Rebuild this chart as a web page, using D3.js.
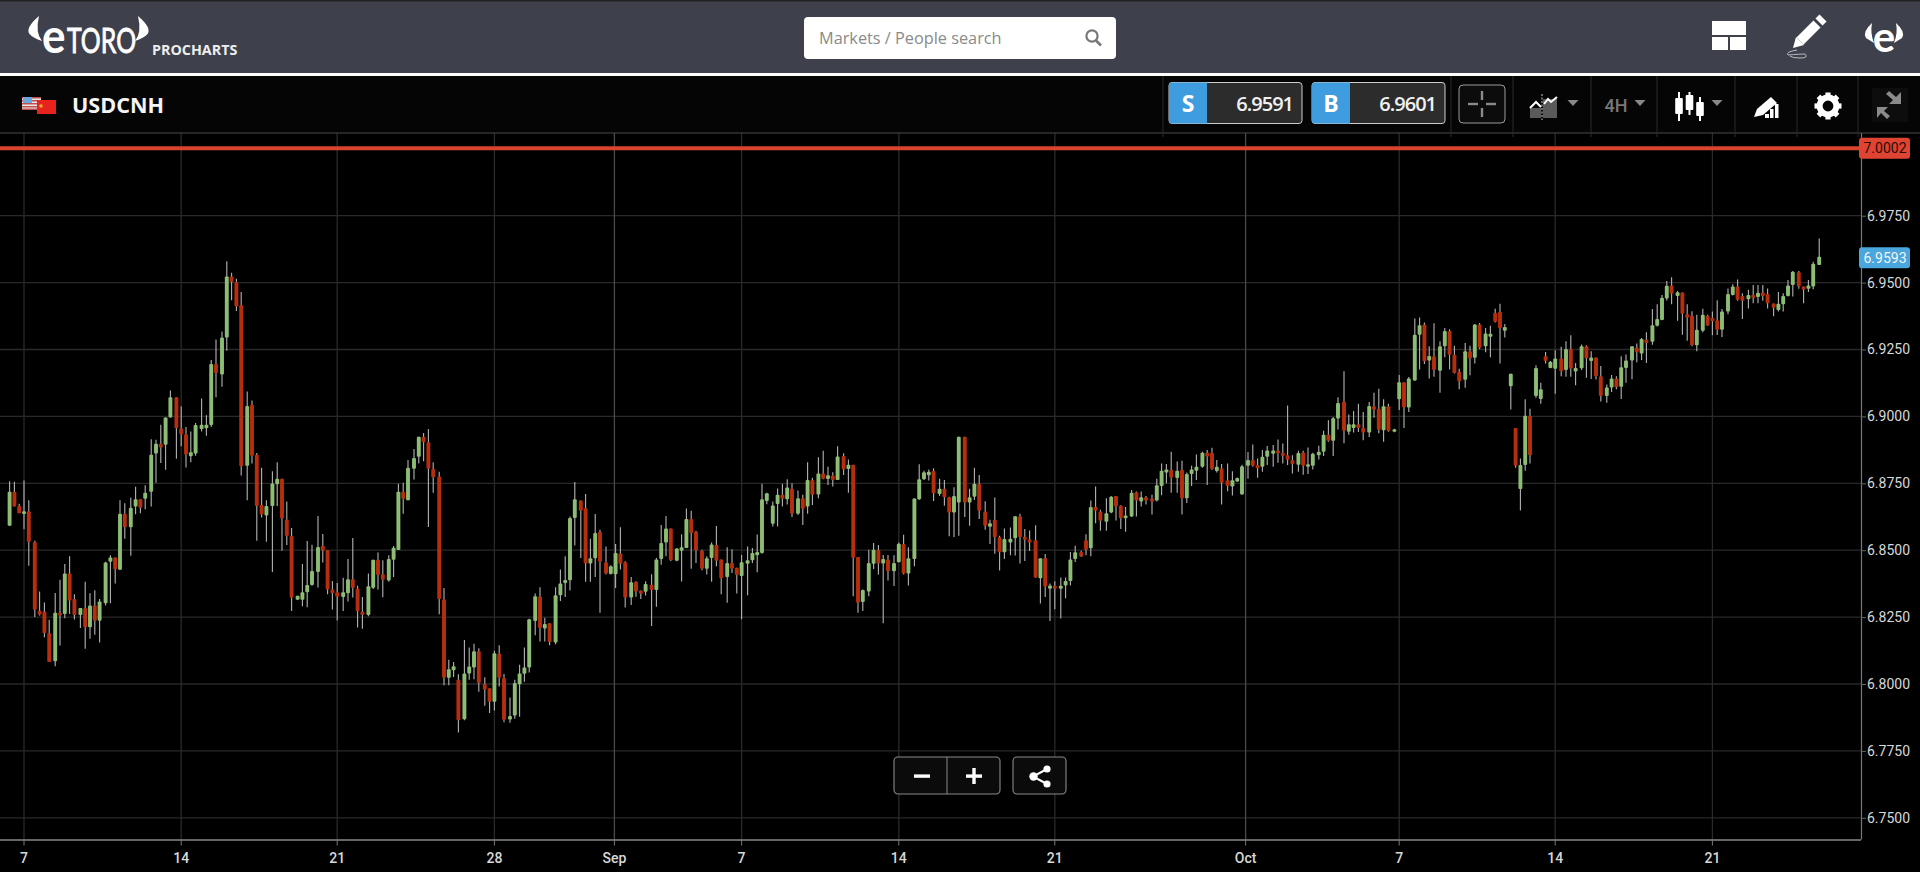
<!DOCTYPE html>
<html><head><meta charset="utf-8"><title>USDCNH</title>
<script src="https://d3js.org/d3.v7.min.js"></script>
<style>html,body{margin:0;padding:0;background:#000;overflow:hidden}svg{display:block}</style>
</head><body><div id="c"></div>
<script>
// Prices are stored as 1/10000 above 6 (8758 = 6.8758)
const highs=[8758,8756,8674,8760,8687,8535,8346,8305,8240,8340,
8390,8448,8477,8335,8284,8382,8339,8350,8318,8457,
8481,8473,8687,8675,8696,8737,8690,8743,8915,8913,
8969,8996,9097,9072,9037,8960,8944,8975,9067,9004,
9211,9287,9317,9580,9537,9514,9465,9093,9059,8863,
8808,8687,8795,8829,8767,8682,8583,8330,8448,8534,
8520,8628,8561,8500,8385,8377,8397,8467,8546,8367,
8325,8413,8464,8491,8462,8481,8516,8748,8752,8837,
8878,8924,8938,8953,8829,8793,8359,8091,8082,8036,
8164,8136,8150,8134,8025,7984,8124,8145,8037,7950,
8016,8072,8136,8244,8338,8362,8248,8227,8362,8428,
8477,8626,8755,8686,8710,8543,8635,8576,8514,8444,
8523,8586,8459,8400,8384,8349,8384,8410,8471,8594,
8628,8581,8508,8560,8656,8647,8573,8502,8477,8529,
8590,8465,8511,8504,8434,8482,8514,8508,8559,8748,
8715,8682,8731,8748,8765,8750,8723,8707,8829,8771,
8847,8872,8812,8791,8888,8862,8839,8819,8475,8353,
8502,8527,8519,8482,8482,8481,8529,8558,8511,8693,
8821,8797,8802,8806,8767,8762,8700,8735,8924,8924,
8730,8808,8781,8683,8614,8697,8554,8581,8585,8627,
8636,8579,8574,8593,8470,8486,8376,8384,8398,8398,
8493,8517,8498,8560,8686,8738,8651,8694,8703,8703,
8668,8661,8725,8719,8719,8703,8707,8767,8824,8822,
8868,8831,8834,8790,8816,8858,8868,8874,8883,8837,
8822,8824,8795,8772,8819,8867,8895,8843,8874,8889,
8893,8914,8899,9041,8855,8872,8872,8884,8864,8890,
8946,8986,8998,9072,9169,9007,9020,9047,9016,9054,
9088,9103,9064,9047,8954,9155,9128,9147,9366,9370,
9351,9262,9348,9281,9330,9326,9264,9178,9274,9264,
9345,9349,9330,9339,9402,9421,9345,9159,8957,8843,
9064,9029,9191,9126,9241,9207,9247,9260,9281,9303,
9200,9269,9266,9243,9220,9188,9119,9155,9150,9225,
9231,9262,9272,9293,9314,9401,9419,9454,9506,9520,
9469,9463,9419,9393,9380,9402,9380,9392,9434,9401,
9478,9494,9512,9460,9473,9491,9491,9491,9478,9422,
9465,9460,9510,9543,9543,9485,9510,9578,9665];
const lows=[8591,8663,8638,8578,8442,8250,8256,8175,8082,8066,
8144,8246,8262,8241,8209,8132,8169,8184,8155,8293,
8302,8376,8427,8543,8479,8634,8638,8653,8663,8752,
8826,8801,8996,8842,8888,8809,8829,8853,8944,8928,
8960,9072,9111,9245,9434,9394,8779,8687,8824,8535,
8622,8532,8419,8665,8498,8519,8273,8315,8291,8287,
8367,8361,8454,8335,8278,8237,8273,8308,8323,8211,
8206,8253,8355,8353,8324,8382,8400,8501,8636,8687,
8764,8824,8832,8587,8715,8261,7995,7995,8026,7819,
7865,8016,8018,7971,7919,7892,7901,7991,7857,7855,
7870,7878,8008,8043,8182,8159,8159,8145,8149,8310,
8325,8349,8518,8471,8382,8382,8400,8266,8409,8409,
8359,8428,8286,8295,8326,8318,8331,8217,8289,8446,
8477,8460,8459,8383,8508,8431,8452,8425,8409,8382,
8440,8335,8304,8415,8338,8242,8332,8452,8418,8487,
8672,8589,8589,8663,8671,8624,8632,8594,8636,8669,
8694,8765,8744,8738,8762,8781,8715,8328,8266,8273,
8328,8430,8409,8227,8387,8366,8455,8409,8368,8440,
8688,8762,8760,8684,8703,8666,8552,8549,8554,8624,
8591,8688,8617,8576,8523,8487,8424,8467,8481,8480,
8450,8460,8497,8397,8301,8325,8235,8279,8245,8320,
8368,8456,8475,8481,8477,8601,8573,8573,8638,8611,
8579,8569,8624,8626,8663,8671,8633,8682,8705,8750,
8715,8715,8633,8676,8740,8762,8808,8744,8800,8790,
8671,8720,8704,8755,8708,8767,8812,8771,8793,8818,
8812,8827,8824,8818,8787,8793,8782,8785,8802,8839,
8852,8905,8852,8951,8900,8931,8940,8942,8911,8923,
8995,8937,8905,8943,8941,9024,8957,9016,9132,9175,
9196,9142,9148,9088,9221,9175,9160,9101,9107,9154,
9198,9252,9240,9221,9351,9198,9295,9026,8808,8648,
8797,8824,9070,9047,9198,9180,9085,9150,9148,9148,
9116,9173,9144,9140,9138,9056,9051,9091,9101,9065,
9126,9139,9202,9211,9200,9268,9336,9359,9433,9419,
9357,9305,9283,9262,9243,9314,9339,9303,9304,9297,
9382,9452,9432,9364,9403,9423,9423,9432,9403,9374,
9392,9392,9448,9448,9477,9423,9465,9475,9566];
const opens=[8591,8718,8665,8635,8646,8531,8274,8271,8190,8085,
8266,8262,8413,8318,8258,8284,8212,8293,8236,8302,
8457,8473,8427,8636,8586,8663,8690,8692,8718,8861,
8898,8894,8996,9072,8955,8933,8851,8861,8953,8956,
8968,9196,9157,9295,9523,9502,9415,8816,9044,8857,
8669,8630,8665,8746,8767,8615,8553,8315,8315,8343,
8370,8419,8517,8500,8353,8343,8325,8339,8391,8357,
8271,8258,8360,8464,8410,8387,8464,8501,8718,8687,
8804,8849,8924,8903,8804,8775,8317,8023,8051,8016,
7868,8039,8062,8122,8000,7984,7934,8113,8022,7867,
7882,7999,8038,8062,8235,8327,8207,8227,8155,8332,
8377,8388,8620,8686,8657,8450,8470,8569,8455,8411,
8410,8488,8455,8323,8382,8349,8345,8371,8351,8467,
8529,8581,8461,8498,8508,8617,8569,8498,8431,8471,
8519,8465,8400,8452,8434,8404,8449,8462,8481,8490,
8684,8599,8673,8707,8690,8730,8636,8694,8663,8762,
8708,8787,8766,8779,8762,8852,8803,8819,8475,8306,
8346,8449,8501,8450,8465,8421,8455,8523,8413,8467,
8690,8765,8780,8796,8710,8730,8698,8641,8678,8924,
8678,8700,8748,8645,8588,8614,8548,8492,8529,8545,
8627,8550,8540,8537,8395,8471,8356,8367,8356,8368,
8385,8467,8493,8537,8507,8662,8645,8606,8641,8703,
8666,8619,8626,8717,8682,8698,8693,8686,8740,8790,
8801,8770,8801,8694,8785,8797,8812,8864,8864,8796,
8805,8761,8738,8757,8708,8816,8837,8818,8812,8849,
8860,8873,8864,8855,8837,8819,8865,8816,8816,8855,
8868,8931,8909,8992,9055,8943,8957,8971,8957,8940,
9038,9029,8948,9038,8943,9064,9128,9033,9134,9305,
9343,9209,9225,9171,9262,9319,9230,9167,9137,9243,
9219,9343,9262,9298,9386,9391,9320,9113,8957,8729,
8818,9002,9076,9065,9225,9181,9178,9216,9173,9252,
9168,9180,9262,9207,9220,9150,9076,9108,9142,9111,
9181,9209,9257,9235,9287,9279,9339,9360,9441,9489,
9450,9463,9382,9376,9266,9320,9376,9369,9359,9324,
9392,9454,9485,9450,9438,9454,9446,9463,9457,9422,
9398,9419,9450,9491,9539,9485,9477,9485,9566];
const closes=[8718,8663,8638,8646,8531,8277,8260,8190,8082,8266,
8256,8413,8312,8258,8284,8212,8293,8236,8308,8454,
8473,8429,8636,8586,8659,8690,8659,8715,8857,8898,
8884,8996,9072,8956,8933,8858,8866,8968,8969,8969,
9196,9161,9295,9523,9502,9411,8814,9039,8853,8665,
8633,8665,8749,8767,8618,8553,8322,8330,8343,8370,
8422,8512,8498,8353,8339,8326,8343,8391,8359,8272,
8258,8365,8464,8407,8390,8467,8509,8718,8692,8808,
8845,8924,8903,8804,8773,8318,8023,8055,8066,7865,
8039,8065,8122,8004,7979,7934,8115,8023,7866,7880,
8004,8039,8062,8242,8328,8209,8224,8157,8332,8376,
8389,8620,8690,8647,8450,8470,8564,8457,8413,8440,
8490,8449,8323,8380,8346,8337,8374,8351,8465,8527,
8581,8462,8506,8511,8617,8564,8500,8431,8470,8521,
8461,8395,8452,8431,8407,8455,8462,8490,8493,8690,
8713,8667,8707,8692,8734,8636,8694,8655,8762,8707,
8787,8767,8780,8762,8850,8802,8819,8472,8304,8351,
8452,8502,8450,8467,8421,8452,8524,8413,8470,8693,
8765,8791,8793,8713,8730,8698,8641,8703,8924,8678,
8698,8748,8647,8591,8601,8548,8492,8542,8543,8627,
8548,8539,8529,8398,8470,8364,8368,8356,8367,8385,
8465,8492,8476,8502,8661,8647,8610,8638,8700,8663,
8619,8630,8715,8686,8698,8686,8682,8743,8797,8802,
8771,8797,8694,8785,8802,8812,8864,8850,8803,8812,
8752,8740,8761,8770,8814,8837,8816,8806,8849,8873,
8873,8862,8852,8838,8821,8863,8816,8821,8860,8868,
8931,8909,8993,9050,8946,8971,8971,8957,8940,9039,
9025,8950,9038,8945,8952,9128,9034,9142,9305,9341,
9206,9226,9173,9262,9319,9230,9162,9131,9243,9216,
9343,9257,9310,9309,9354,9329,9334,9159,8816,8818,
9002,8855,9181,9101,9207,9204,9216,9169,9252,9178,
9181,9262,9217,9220,9150,9076,9108,9142,9109,9184,
9209,9262,9240,9289,9274,9341,9364,9443,9488,9458,
9464,9384,9370,9266,9324,9380,9340,9356,9324,9392,
9457,9485,9436,9432,9454,9442,9462,9450,9423,9406,
9421,9450,9489,9541,9485,9473,9489,9570,9597];

const yTicks=[6.75,6.775,6.8,6.825,6.85,6.875,6.9,6.925,6.95,6.975];
const xTickBars=[3,34,65,96,119.7,145,176,207,244.6,275,306,337];
const xTickLabels=['7','14','21','28','Sep','7','14','21','Oct','7','14','21'];
const monthLabels=['Sep','Oct'];
const alertPrice=7.0002, lastPrice=6.9593;
const sellPrice='6.9591', buyPrice='6.9601';
const instrument='USDCNH';

const toPrice=v=>6+v/10000;
const candles=highs.map((h,i)=>({i,high:toPrice(h),low:toPrice(lows[i]),open:toPrice(opens[i]),close:toPrice(closes[i])}));

const W=1920,H=872;
const svg=d3.select('#c').append('svg').attr('width',W).attr('height',H).attr('viewBox',`0 0 ${W} ${H}`);
const sans='"Open Sans",sans-serif', rob='Roboto,"Liberation Sans",sans-serif';

// scales: the source chart snaps bars to a 1600-wide grid which is then shown at 1.2x
const K=1.2;
const xBase=d3.scaleLinear().domain([0,candles.length-1]).range([7.61,1515.5]);
const snap=v=>K*Math.round(xBase(v));
const xAxisScale=d3.scaleLinear().domain(xBase.domain()).range(xBase.range().map(d=>d*K));
const y=d3.scaleLinear().domain([6.75,7.0]).range([817.8,148.8]);
const axisX=1861, plotTop=133, plotBottom=839.5;

svg.append('rect').attr('width',W).attr('height',H).attr('fill','#000');

// grid
const grid=svg.append('g');
grid.selectAll('.h').data(yTicks).join('line').attr('x1',0).attr('x2',axisX).attr('y1',d=>y(d)).attr('y2',d=>y(d)).attr('stroke','#292929').attr('stroke-width',1.3);
grid.selectAll('.v').data(xTickBars).join('line').attr('x1',d=>snap(d)).attr('x2',d=>snap(d)).attr('y1',plotTop).attr('y2',plotBottom)
  .attr('stroke',(d,i)=>monthLabels.includes(xTickLabels[i])?'#4a4a4a':'#2a2a2a').attr('stroke-width',1.3);

// candles
const cg=svg.append('g');
cg.selectAll('.w').data(candles).join('line').attr('x1',d=>snap(d.i)).attr('x2',d=>snap(d.i)).attr('y1',d=>y(d.high)).attr('y2',d=>y(d.low)).attr('stroke','#b4b4b4').attr('stroke-width',1.1);
cg.selectAll('.b').data(candles).join('rect').attr('x',d=>snap(d.i)-1.95).attr('width',3.9).attr('rx',1)
  .attr('y',d=>y(Math.max(d.open,d.close))).attr('height',d=>Math.max(2.4,Math.abs(y(d.open)-y(d.close))))
  .attr('fill',d=>d.close>=d.open?'#8dbd74':'#b62e0d');

// axes
const ay=svg.append('g').attr('transform',`translate(${axisX},0)`).call(d3.axisRight(y).tickValues(yTicks).tickFormat(d3.format('.4f')).tickSize(5).tickPadding(0));
ay.select('.domain').attr('d',`M0.5,${plotTop}V${plotBottom}`).attr('stroke','#777').attr('stroke-width',1.2);
ay.selectAll('line').attr('stroke','#666');
ay.selectAll('text').attr('x',6).attr('font-family',rob).attr('font-size',14).attr('fill','#d8d8d8');
const ax=svg.append('g').attr('transform',`translate(0,${plotBottom})`).call(d3.axisBottom(xAxisScale).tickValues(xTickBars).tickFormat((d,i)=>xTickLabels[i]).tickSize(6).tickPadding(8));
ax.select('.domain').attr('d',`M0,0.5H${axisX}`).attr('stroke','#8a8a8a').attr('stroke-width',1.4);
ax.selectAll('.tick').attr('transform',d=>`translate(${snap(d)},0)`);
ax.selectAll('line').attr('stroke','#777');
ax.selectAll('text').attr('font-family',rob).attr('font-size',14).attr('font-weight',500).attr('fill','#d8d8d8');

// alert + last price
svg.append('line').attr('x1',0).attr('x2',axisX).attr('y1',y(alertPrice)).attr('y2',y(alertPrice)).attr('stroke','#d9432f').attr('stroke-width',4);
function tag(p,fill,col){
  const g=svg.append('g');
  g.append('rect').attr('x',1859).attr('y',y(p)-10.5).attr('width',51).attr('height',21).attr('rx',3).attr('fill',fill);
  g.append('text').attr('x',1885).attr('y',y(p)+5).attr('text-anchor','middle').attr('font-family',rob).attr('font-size',14).attr('fill',col).text(p.toFixed(4));
}
tag(alertPrice,'#df4433','#2a0a05');
tag(lastPrice,'#4aa6dc','#f4f4f4');

// header
svg.append('rect').attr('width',W).attr('height',73).attr('fill','#3e404c');
svg.append('rect').attr('width',W).attr('height',1.5).attr('fill','#222');
svg.append('rect').attr('y',73).attr('width',W).attr('height',3).attr('fill','#fff');
svg.append('rect').attr('y',76).attr('width',W).attr('height',57).attr('fill','#050505');
svg.append('line').attr('x1',0).attr('x2',W).attr('y1',133).attr('y2',133).attr('stroke','#4a4a4a').attr('stroke-width',1.2);

// logo: squeezed by a transform so each word's box matches what is drawn
svg.append('text').attr('transform','translate(42,53) scale(0.92,1)').attr('font-family','Lato,sans-serif').attr('font-size',48).attr('font-weight',700)
  .attr('fill','#fff').text('e');
svg.append('text').attr('transform','translate(67,53) scale(0.71,1)').attr('font-family','Lato,sans-serif').attr('font-size',35).attr('font-weight',400)
  .attr('fill','#fff').attr('stroke','#fff').attr('stroke-width',0.9).text('TORO');
const horn=(g,flip)=>g.append('path').attr('d','M39,16 Q25,28 29.5,34 Q33,38 42,41 Q35,33 39,16Z').attr('fill','#fff').attr('transform',flip||null);
horn(svg,null);horn(svg,'translate(177,0) scale(-1,1)');
svg.append('text').attr('x',152).attr('y',55).attr('font-family',sans).attr('font-weight',700).attr('font-size',14.3).attr('fill','#eee').text('PROCHARTS');

// search
svg.append('rect').attr('x',804).attr('y',17).attr('width',312).attr('height',42).attr('rx',4).attr('fill','#fff');
svg.append('text').attr('x',819).attr('y',44).attr('font-family',sans).attr('font-size',16.3).attr('fill','#8a8a8a').text('Markets / People search');
svg.append('circle').attr('cx',1092).attr('cy',36).attr('r',5.6).attr('fill','none').attr('stroke','#777').attr('stroke-width',2.2);
svg.append('line').attr('x1',1096).attr('y1',40.5).attr('x2',1101).attr('y2',45.5).attr('stroke','#777').attr('stroke-width',2.6);

// top-right icons
[[1712,21,34,14],[1712,37,16,13],[1730,37,16,13]].forEach(r=>svg.append('rect').attr('x',r[0]).attr('y',r[1]).attr('width',r[2]).attr('height',r[3]).attr('fill','#fff'));
svg.append('line').attr('x1',1800).attr('y1',41).attr('x2',1817).attr('y2',24).attr('stroke','#fff').attr('stroke-width',10);
svg.append('line').attr('x1',1819).attr('y1',22).attr('x2',1823).attr('y2',18).attr('stroke','#fff').attr('stroke-width',10);
svg.append('path').attr('d','M1793,48 L1796,37 L1804,45Z').attr('fill','#fff');
svg.append('path').attr('d','M1797,50 Q1785,52 1788,55 Q1800,54 1805,54 Q1809,58 1800,58 Q1792,58 1790,56').attr('fill','none').attr('stroke','#bbb').attr('stroke-width',1);
svg.append('text').attr('x',1884).attr('y',52).attr('text-anchor','middle').attr('font-family','Lato,sans-serif').attr('font-size',42).attr('font-weight',700).attr('fill','#fff').text('e');
const smallHorn=(flip)=>svg.append('path').attr('d','M1872,23 Q1862,32 1866,38 L1874,43 Q1870,33 1872,23Z').attr('fill','#fff').attr('transform',flip||null);
smallHorn(null);smallHorn('translate(3768,0) scale(-1,1)');

// instrument
const us=svg.append('g');
us.append('rect').attr('x',22).attr('y',97).attr('width',19).attr('height',13).attr('fill','#e8e8e8');
[97,100,103,106,108.5].forEach(v=>us.append('rect').attr('x',22).attr('y',v).attr('width',19).attr('height',1.5).attr('fill','#c0504d'));
us.append('rect').attr('x',23).attr('y',97).attr('width',9).attr('height',6).attr('fill','#6aa7e0');
svg.append('rect').attr('x',37).attr('y',100).attr('width',19).attr('height',14).attr('fill','#e8231e');
svg.append('circle').attr('cx',41).attr('cy',106).attr('r',1.8).attr('fill','#e0b030');
svg.append('text').attr('x',72).attr('y',113).attr('font-family',sans).attr('font-weight',700).attr('font-size',21.6).attr('fill','#f4f4f4').text(instrument);

// sell / buy
function trade(x,w,letter,val){
  svg.append('rect').attr('x',x).attr('y',82.5).attr('width',w).attr('height',41).attr('rx',3).attr('fill','#2c2c2c').attr('stroke','#ccc').attr('stroke-width',1);
  svg.append('path').attr('d',`M${x+3},82.5H${x+38}V123.5H${x+3}Q${x},123.5 ${x},120.5V85.5Q${x},82.5 ${x+3},82.5Z`).attr('fill','#3f9ddf');
  svg.append('text').attr('x',x+19).attr('y',112).attr('text-anchor','middle').attr('font-family',sans).attr('font-weight',700).attr('font-size',23).attr('fill','#fff').text(letter);
  svg.append('text').attr('x',x+124).attr('y',111).attr('text-anchor','end').attr('font-family',sans).attr('font-weight',600).attr('font-size',20).attr('letter-spacing',-1).attr('fill','#f0f0f0').text(val);
}
trade(1169,133,'S',sellPrice);
trade(1312,133,'B',buyPrice);
[1163,1451,1513,1591,1657,1735,1797,1858].forEach(x=>svg.append('line').attr('x1',x).attr('x2',x).attr('y1',76).attr('y2',137).attr('stroke','#2a2a2a'));
svg.append('rect').attr('x',1459).attr('y',85).attr('width',46).attr('height',38).attr('rx',4).attr('fill','#0c0c0c').attr('stroke','#9a9a9a');
[[1482,91,1482,100],[1482,108,1482,117],[1468,104,1478,104],[1486,104,1496,104]].forEach(l=>svg.append('line').attr('x1',l[0]).attr('y1',l[1]).attr('x2',l[2]).attr('y2',l[3]).attr('stroke','#8a8a8a').attr('stroke-width',2.4));
// chart-type icons
svg.append('rect').attr('x',1530).attr('y',108).attr('width',11).attr('height',10).attr('fill','#5a5a5a');
svg.append('rect').attr('x',1543).attr('y',99).attr('width',14).attr('height',19).attr('fill','#5a5a5a');
svg.append('path').attr('d','M1530,108 L1536,102 L1541,107').attr('fill','none').attr('stroke','#fff').attr('stroke-width',2);
svg.append('path').attr('d','M1544,104 L1548,99 L1551,102 L1557,97').attr('fill','none').attr('stroke','#fff').attr('stroke-width',2);
svg.append('line').attr('x1',1542).attr('x2',1542).attr('y1',94).attr('y2',120).attr('stroke','#ccc').attr('stroke-dasharray','2 1.5');
const tri=x=>svg.append('path').attr('d',`M${x-5.5},100 H${x+5.5} L${x},106Z`).attr('fill','#888');
[1573,1640,1717].forEach(tri);
svg.append('text').attr('x',1616).attr('y',112).attr('text-anchor','middle').attr('font-family',rob).attr('font-size',18).attr('font-weight',500).attr('fill','#777').text('4H');
[[1679,98,114,92,121],[1689.5,95,110,92,115],[1700,102,116,97,121]].forEach(c=>{
  svg.append('line').attr('x1',c[0]).attr('x2',c[0]).attr('y1',c[3]).attr('y2',c[4]).attr('stroke','#fff').attr('stroke-width',2);
  svg.append('rect').attr('x',c[0]-3.8).attr('y',c[1]).attr('width',7.6).attr('height',c[2]-c[1]).attr('rx',1).attr('fill','#fff');
});
svg.append('path').attr('d','M1754,117 L1757,109 L1771,97 L1777,103 L1763,115Z').attr('fill','#fff');
[[1765,114,4,4],[1770,109,3.5,9],[1775,104,3.5,14]].forEach(r=>svg.append('rect').attr('x',r[0]).attr('y',r[1]).attr('width',r[2]).attr('height',r[3]).attr('fill','#fff'));
// gear
const gear=svg.append('g').attr('transform','translate(1828,106)');
gear.append('circle').attr('r',8.4).attr('fill','none').attr('stroke','#fff').attr('stroke-width',6);
d3.range(8).forEach(k=>gear.append('rect').attr('x',-2.6).attr('y',-13.5).attr('width',5.2).attr('height',5).attr('fill','#fff').attr('transform',`rotate(${k*45})`));
// compress
svg.append('rect').attr('x',1872).attr('y',88).attr('width',36).attr('height',34).attr('fill','#0d0d0d');
svg.append('path').attr('d','M1901,92 V104 H1889 L1893,100 L1886,94 L1889,91 L1896,97Z').attr('fill','#8a8a8a');
svg.append('path').attr('d','M1877,118 V107 H1888 L1884,111 L1890,116 L1887,119 L1881,113Z').attr('fill','#8a8a8a');

// zoom + share
function btn(x,w){svg.append('rect').attr('x',x).attr('y',757).attr('width',w).attr('height',37).attr('rx',4).attr('fill','#0b0b0b').attr('stroke','#8a8a8a').attr('stroke-width',1.1);}
btn(894,106);btn(1013,53);
svg.append('line').attr('x1',947).attr('x2',947).attr('y1',757).attr('y2',794).attr('stroke','#8a8a8a');
svg.append('rect').attr('x',914).attr('y',774.4).attr('width',16).attr('height',3.4).attr('fill','#fff');
svg.append('rect').attr('x',966).attr('y',774.4).attr('width',16).attr('height',3.4).attr('fill','#fff');
svg.append('rect').attr('x',972.3).attr('y',768).attr('width',3.4).attr('height',16).attr('fill','#fff');
svg.append('path').attr('d','M1047,769 L1033,776.5 L1047,784').attr('fill','none').attr('stroke','#fff').attr('stroke-width',2);
[[1047,769,3.6],[1033.5,776.5,4.2],[1047,784,3.6]].forEach(c=>svg.append('circle').attr('cx',c[0]).attr('cy',c[1]).attr('r',c[2]).attr('fill','#fff'));
</script></body></html>
